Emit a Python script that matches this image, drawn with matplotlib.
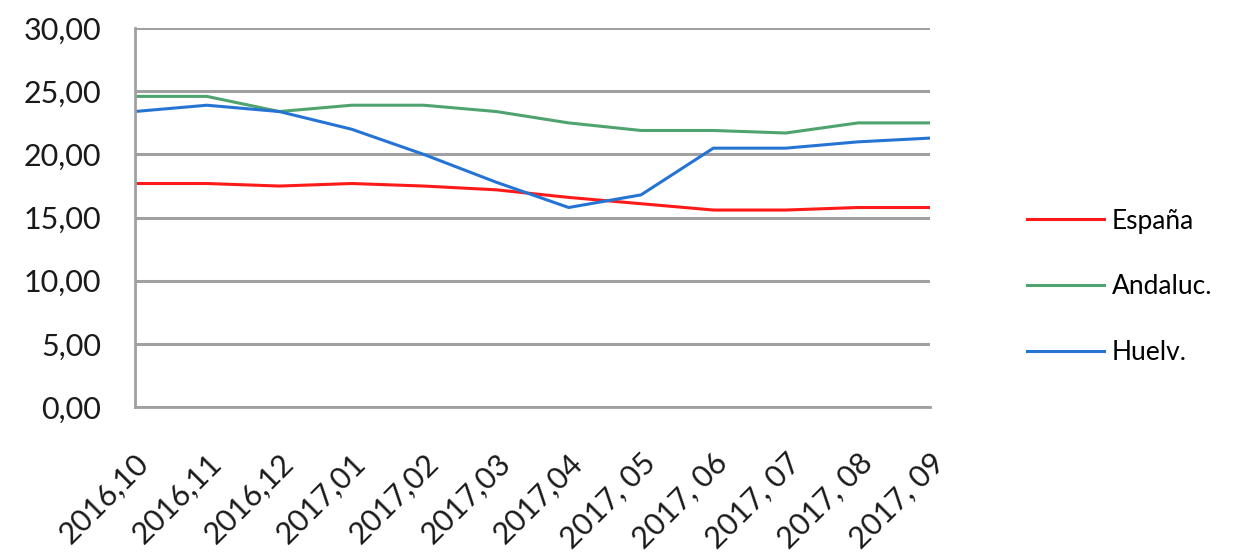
import matplotlib.pyplot as plt

# datos
meses = ['2016,10', '2016,11', '2016,12', '2017,01', '2017,02', '2017,03',
         '2017,04', '2017, 05', '2017, 06', '2017, 07', '2017, 08', '2017, 09']
espana = [17.7, 17.7, 17.5, 17.7, 17.5, 17.2, 16.6, 16.1, 15.6, 15.6, 15.8, 15.8]
andaluc = [24.6, 24.6, 23.4, 23.9, 23.9, 23.4, 22.5, 21.9, 21.9, 21.7, 22.5, 22.5]
huelv = [23.4, 23.9, 23.4, 22.0, 20.0, 17.8, 15.8, 16.8, 20.5, 20.5, 21.0, 21.3]
yticks = [0, 5, 10, 15, 20, 25, 30]

plt.rcParams['font.family'] = ['Lato', 'DejaVu Sans']

fig = plt.figure(figsize=(12.34, 5.53), dpi=100)
ax = fig.add_axes([0.109, 0.264, 0.645, 0.685])

x = list(range(len(meses)))
ax.plot(x, espana, color='#ff1a1a', lw=2.2, label='España')
ax.plot(x, andaluc, color='#4ea36e', lw=2.2, label='Andaluc.')
ax.plot(x, huelv, color='#2574d4', lw=2.2, label='Huelv.')

ax.set_xlim(0, len(meses) - 1)
ax.set_ylim(0, 30)
ax.set_yticks(yticks)
ax.set_yticklabels([('%.2f' % v).replace('.', ',') for v in yticks])
ax.set_xticks(x)
ax.set_xticklabels(meses, rotation=45, ha='right', rotation_mode='anchor')

ax.grid(axis='y', color='#a0a0a0', lw=2.2)
ax.set_axisbelow(True)
for s in ['top', 'right']:
    ax.spines[s].set_visible(False)
ax.spines['left'].set_color('#a0a0a0')
ax.spines['left'].set_linewidth(2)
ax.spines['bottom'].set_color('#a0a0a0')
ax.spines['bottom'].set_linewidth(2)
ax.tick_params(axis='y', length=0, pad=24, labelsize=22, labelcolor='#1a1a1a')
ax.tick_params(axis='x', length=0, pad=30, labelsize=22, labelcolor='#1a1a1a')

ax.legend(loc='center left', bbox_to_anchor=(1014 / 1234, 1 - 287 / 553),
          bbox_transform=fig.transFigure, frameon=False, borderpad=0,
          fontsize=19, handlelength=2.9, labelspacing=1.55, handletextpad=0.3)

fig.savefig('out.png', dpi=100)
